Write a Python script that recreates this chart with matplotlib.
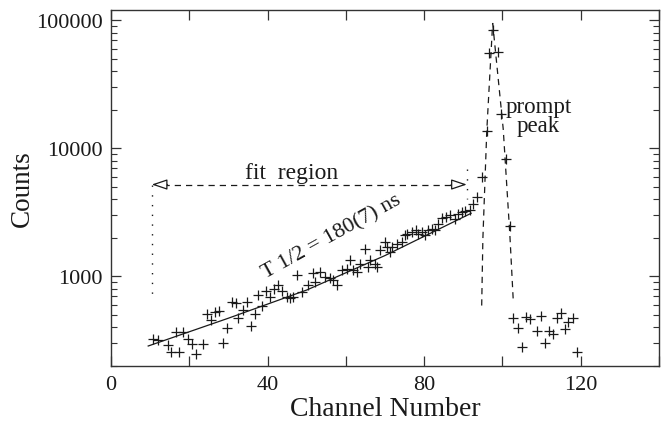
import matplotlib
matplotlib.use('Agg')
import matplotlib.pyplot as plt
from matplotlib.ticker import FixedLocator, LogLocator, NullFormatter, FuncFormatter

# ---------------- data ----------------
channel = [10.8, 12.1, 14.6, 15.3, 16.6, 17.4, 18.5, 19.7, 20.6, 21.7,
           23.6, 24.4, 25.5, 26.6, 27.6, 28.7, 29.6, 30.8, 31.9, 32.5,
           33.8, 34.7, 35.7, 36.8, 37.6, 38.7, 39.6, 40.6, 41.7, 42.6,
           43.6, 44.9, 45.7, 46.6, 47.4, 48.7, 50.4, 51.7, 52.1, 53.4,
           54.7, 55.9, 56.8, 57.7, 58.9, 60.2, 61.0, 61.8, 62.8, 63.6,
           64.9, 65.7, 66.2, 67.4, 67.9, 68.7, 70.0, 70.4, 71.3, 71.7,
           73.0, 74.3, 75.1, 75.5, 76.8, 77.9, 78.5, 79.4, 80.2, 81.0,
           81.9, 82.8, 83.6, 84.5, 85.6, 86.6, 87.9, 88.7, 89.6, 90.4,
           91.7, 92.5, 93.4, 94.9, 96.0, 96.6, 97.7, 98.9, 99.7, 100.8,
           101.9, 102.8, 104.0, 104.9, 106.0, 107.0, 108.9, 109.8, 111.0, 112.0,
           113.0, 114.0, 114.9, 116.1, 116.8, 118.1, 119.0]
counts = [321, 318, 290, 255, 369, 255, 369, 324, 294, 246,
          296, 504, 455, 528, 535, 303, 392, 632, 621, 469,
          543, 624, 411, 504, 711, 589, 764, 692, 788, 851,
          764, 692, 679, 692, 1031, 756, 851, 1050, 904, 1082,
          989, 960, 931, 851, 1113, 1148, 1332, 1113, 1082, 1255,
          1643, 1183, 1332, 1255, 1183, 1594, 1852, 1694, 1549, 1694,
          1795, 1852, 2086, 2149, 2216, 2282, 2149, 2216, 2086, 2282,
          2351, 2282, 2572, 2846, 2897, 2983, 2812, 3077, 3171, 3206,
          3265, 3680, 4151, 5937, 13680, 55700, 83100, 56300, 18540, 8240,
          2483, 474, 396, 279, 483, 463, 373, 492, 299, 373,
          352, 474, 513, 387, 437, 474, 258]

# fitted decay curve
fit_channel = [9.5, 30, 50, 70, 92]
fit_counts = [285, 470, 780, 1450, 3100]

# dashed outline of the prompt peak
peak_left_channel = [94.7, 95.0, 96.0, 97.5]
peak_left_counts = [590, 1960, 13700, 95000]
peak_right_channel = [97.5, 100.2, 101.9, 102.8]
peak_right_counts = [95000, 14100, 2090, 614]

# fit-region annotation
fit_start, fit_end = 10.4, 90.9
fit_arrow_level = 5200
fit_left_bottom = 720
fit_right_top, fit_right_bottom = 6900, 4000

x_ticks = [0, 20, 40, 60, 80, 100, 120, 140]
x_labelled = [0, 40, 80, 120]

# ---------------- drawing ----------------
plt.rcParams['font.family'] = ['Liberation Serif', 'DejaVu Serif']
plt.rcParams['mathtext.fontset'] = 'stix'
ink = '#1a1a1a'

fig = plt.figure(figsize=(6.7, 4.31), dpi=100)
ax = fig.add_axes([0.1657, 0.1492, 0.8179, 0.8253])
ax.set_yscale('log')
ax.set_xlim(0, 140)
ax.set_ylim(200, 120000)

ax.plot(channel, counts, linestyle='none', marker='+', color=ink, ms=7.5, mew=0.9)
ax.plot(fit_channel, fit_counts, '-', color=ink, lw=0.9)
ax.plot(peak_left_channel, peak_left_counts, color=ink, lw=0.9, dashes=(5, 4))
ax.plot(peak_right_channel, peak_right_counts, color=ink, lw=0.9, dashes=(5, 4))

# fit region arrow
ax.plot([fit_start + 3, fit_end - 3], [fit_arrow_level] * 2, color=ink, lw=0.9, dashes=(5, 4))
for tip, tail in ((fit_start, fit_start + 4), (fit_end, fit_end - 4)):
    ax.annotate('', xy=(tip, fit_arrow_level), xytext=(tail, fit_arrow_level),
                arrowprops=dict(arrowstyle='-|>,head_length=0.95,head_width=0.32',
                                fc='white', ec=ink, lw=0.9, shrinkA=0, shrinkB=0))
ax.plot([fit_start, fit_start], [fit_arrow_level, fit_left_bottom], color=ink, lw=1.0,
        dashes=(1, 6))
ax.plot([fit_end, fit_end], [fit_right_top, fit_right_bottom], color=ink, lw=1.0,
        dashes=(1, 6))

ax.text(46.2, 6500, 'fit  region', ha='center', va='center', fontsize=17, color=ink)
ax.text(109.2, 17800, 'prompt\npeak', ha='center', va='center', fontsize=16.5,
        color=ink, linespacing=0.85)
ax.text(56.5, 2050, 'T 1/2 = 180(7) ns', ha='center', va='center', fontsize=16,
        color=ink, rotation=29, rotation_mode='anchor')

# axes styling
for s in ax.spines.values():
    s.set_color('#333333')
    s.set_linewidth(1.0)
ax.xaxis.set_major_locator(FixedLocator(x_ticks))
ax.xaxis.set_major_formatter(FuncFormatter(lambda v, p: f'{int(v)}' if int(v) in x_labelled else ''))
ax.yaxis.set_major_locator(LogLocator(base=10))
ax.yaxis.set_minor_locator(LogLocator(base=10, subs=(2, 3, 4, 5, 6, 7, 8, 9)))
ax.yaxis.set_major_formatter(FuncFormatter(lambda v, p: f'{int(round(v))}'))
ax.yaxis.set_minor_formatter(NullFormatter())
ax.tick_params(which='both', direction='in', top=True, right=True, colors='#333333',
               labelcolor=ink, labelsize=16)
ax.tick_params(which='major', length=7, width=0.9)
ax.tick_params(which='minor', length=4, width=0.8)
ax.tick_params(axis='x', pad=7)
ax.tick_params(axis='y', pad=6)

ax.set_xlabel('Channel Number', fontsize=20, color=ink)
ax.set_ylabel('Counts', fontsize=19.5, color=ink)
ax.xaxis.set_label_coords(0.5, -0.085)
ax.yaxis.set_label_coords(-0.139, 0.5)

fig.savefig('out.png', dpi=100)
